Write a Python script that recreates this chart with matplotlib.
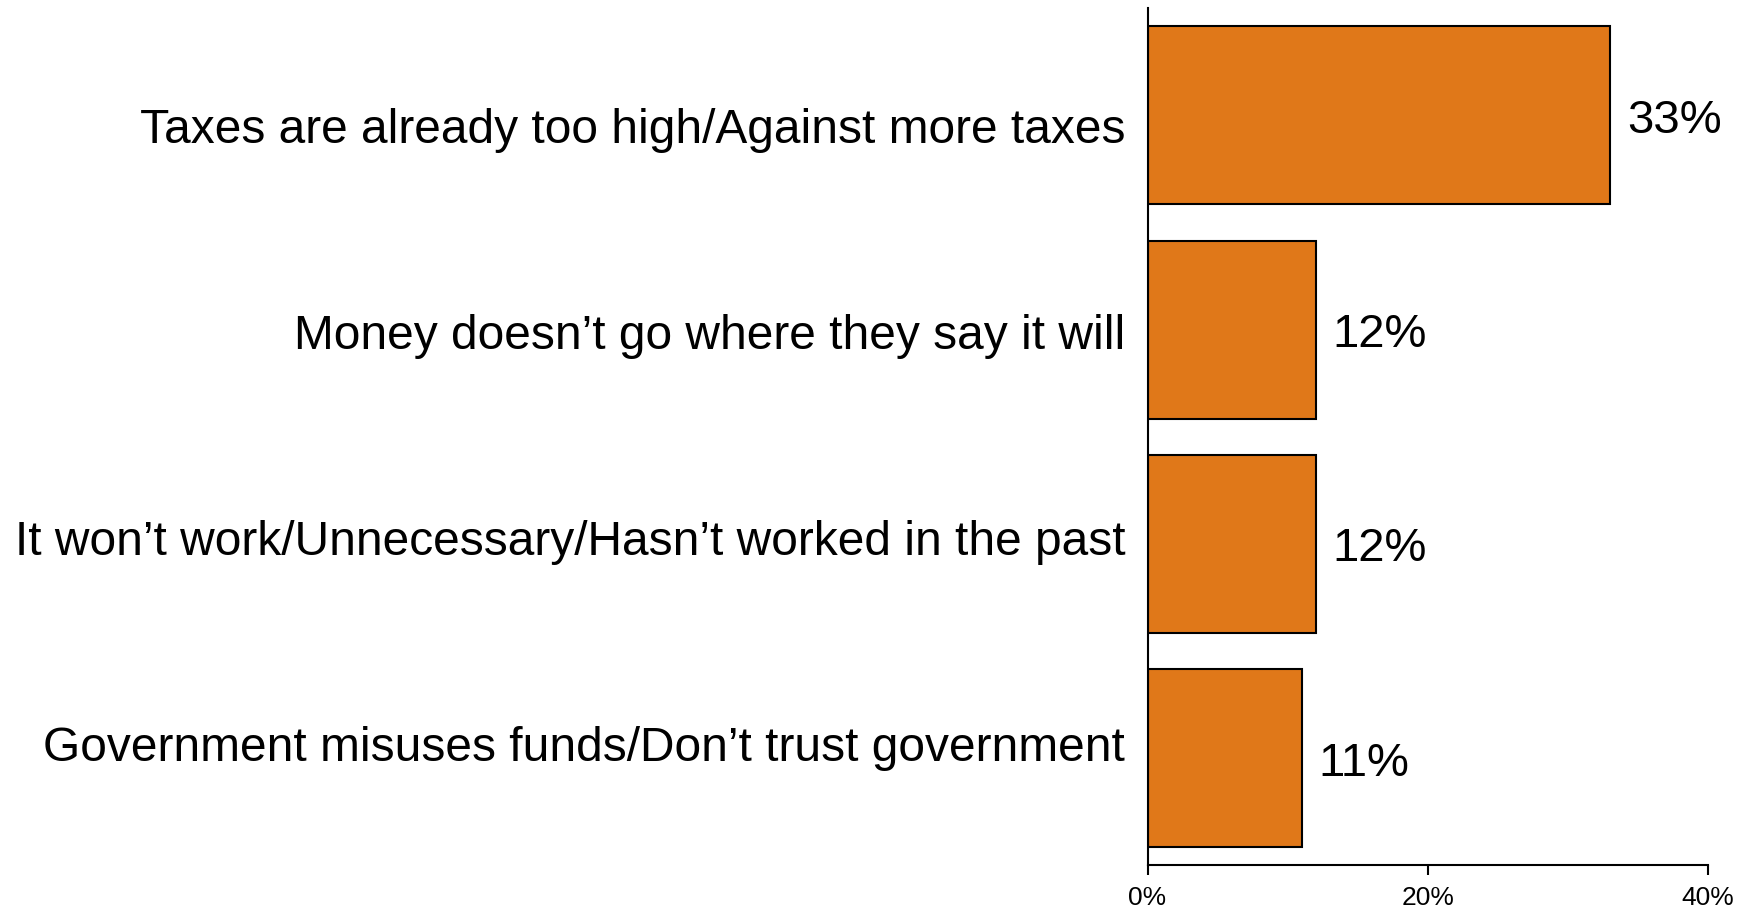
import matplotlib.pyplot as plt

plt.rcParams['font.family'] = ['Liberation Sans', 'DejaVu Sans']

categories = [
    'Taxes are already too high/Against more taxes',
    'Money doesn\u2019t go where they say it will',
    'It won\u2019t work/Unnecessary/Hasn\u2019t worked in the past',
    'Government misuses funds/Don\u2019t trust government',
]
values = [33, 12, 12, 11]
x_ticks = [0, 20, 40]
x_tick_labels = ['0%', '20%', '40%']

fig = plt.figure(figsize=(17.52, 9.12), dpi=100)
ax = fig.add_axes([0.655, 0.05, 0.32, 0.94])

ypos = list(range(len(categories)))
ax.barh(ypos, values, height=0.83, color='#E07819', edgecolor='black', linewidth=1.5)

for y, v in zip(ypos, values):
    ax.text(v + 1.2, y + 0.02, '%d%%' % v, va='center', ha='left', fontsize=34)

# category labels sit on a slightly tighter pitch than the bars
label_y = [0.065 + 0.962 * i for i in ypos]
for y, c in zip(label_y, categories):
    ax.text(-1.6, y, c, va='center', ha='right', fontsize=34.5)

ax.set_ylim(3.5, -0.5)
ax.set_xlim(0, 40)
ax.set_yticks([])
ax.set_xticks(x_ticks)
ax.set_xticklabels(x_tick_labels, fontsize=19)
ax.tick_params(axis='x', length=7, width=1.5, pad=7)

ax.spines['right'].set_visible(False)
ax.spines['top'].set_visible(False)
ax.spines['left'].set_linewidth(1.5)
ax.spines['bottom'].set_linewidth(1.5)

plt.savefig('out.png', dpi=100)
